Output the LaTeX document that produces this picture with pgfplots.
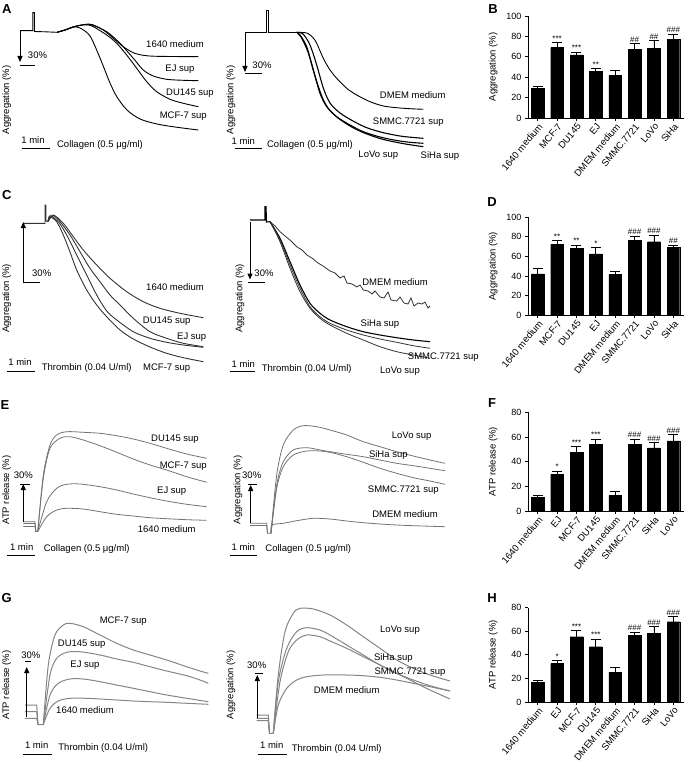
\documentclass[border=0pt]{standalone}
\usepackage{fontspec}
\setmainfont{Liberation Sans}
\usepackage{pgfplots}
\pgfplotsset{compat=1.18}
\usetikzlibrary{arrows.meta}
\newcommand\lbl{\fontsize{9.5}{11}\selectfont}
\newcommand\pl{\bfseries\fontsize{13}{15}\selectfont}
\newcommand\sig{\fontsize{8}{9}\selectfont}
\definecolor{trE}{gray}{0.45}
\definecolor{trG}{gray}{0.52}
\definecolor{dk}{gray}{0.2}
\pgfplotsset{
  barax/.style={
    scale only axis, width=156pt,
    axis x line*=bottom, axis y line*=left,
    xmin=-0.5, xmax=7.55, ymin=0,
    xtick={0,...,7},
    ybar, bar width=12.7pt,
    tick align=outside, major tick length=3pt,
    tick style={black, line width=0.8pt},
    axis line style={line width=0.8pt},
    y tick label style={font=\fontsize{9}{10}\selectfont},
    xticklabel style={rotate=50, anchor=north east, font=\lbl, inner sep=1pt},
    /pgf/number format/assume math mode=true,
    every axis y label/.style={at={(axis description cs:-0.224,0.5)}, rotate=90, anchor=center, font=\lbl},
    clip=false,
  },
  barplot/.style={fill=black, draw=black,
    error bars/.cd, y dir=plus, y explicit,
    error bar style={line width=0.8pt, black},
    error mark options={rotate=90, mark size=5pt, line width=0.8pt, black}},
}
\tikzset{sb/.style={line width=1pt}, ar/.style={line width=1pt, -{Triangle[length=6pt,width=5pt]}}}
\begin{document}
\begin{tikzpicture}
\path[use as bounding box] (0pt,-762pt) rectangle (685pt,0pt);
\begin{axis}[hide axis, x=1pt, y=1pt, xmin=0, xmax=685, ymin=-762, ymax=0,
  clip=false, at={(0pt,-762pt)}, anchor=south west, no markers]
% ---------------- A left
\addplot[black,line width=0.9pt] coordinates {(20,-30.7)(32.7,-30.7)(32.7,-12.7)(34.3,-12.7)(34.3,-31.5)(45,-31.8)(57,-32.3)};
\addplot[black,line width=0.9pt,smooth,tension=0.5] coordinates {(57,-32.3)(65,-30)(75,-26.5)(85,-24.5)(92,-24.5)(103.3,-30)(113.3,-38.3)(123.3,-46.7)(133.3,-52.7)(143.3,-55.3)(156.7,-56.3)(198.3,-56.7)};
\addplot[black,line width=0.9pt,smooth,tension=0.5] coordinates {(57,-32.3)(65,-30)(75,-26.5)(85,-24.5)(92,-25)(106.7,-31.7)(120,-43.3)(133.3,-58.3)(143.3,-70)(153.3,-76)(166.7,-79.3)(183.3,-80.3)(198.3,-80.7)};
\addplot[black,line width=0.9pt,smooth,tension=0.5] coordinates {(57,-32.3)(65,-30)(75,-26.5)(85,-24.8)(92,-26)(106.7,-35)(116.7,-43.3)(126.7,-55)(136.7,-68.3)(146.7,-81.7)(156.7,-91.7)(170,-99.3)(183.3,-103.3)(198.3,-106.7)};
\addplot[black,line width=0.9pt,smooth,tension=0.5] coordinates {(57,-32.3)(65,-30)(73,-27)(80,-28)(90,-36)(100,-58)(110,-83)(117,-97)(127,-110)(140,-119)(157,-124)(175,-127)(198.3,-130)};
\draw[ar] (axis cs:20,-30.7) -- (axis cs:20,-62);
\draw[sb] (axis cs:20,-65.3) -- (axis cs:35,-65.3);
\node[font=\lbl] at (axis cs:37.5,-55) {30\%};
\node[font=\lbl] at (axis cs:175,-44.3) {1640 medium};
\node[font=\lbl] at (axis cs:180,-69) {EJ sup};
\node[font=\lbl] at (axis cs:190,-93.3) {DU145 sup};
\node[font=\lbl] at (axis cs:183.3,-115.7) {MCF-7 sup};
\node[font=\lbl,rotate=90] at (axis cs:6.7,-100) {Aggregation (\%)};
\node[font=\lbl] at (axis cs:33,-140) {1 min};
\draw[sb] (axis cs:21.7,-148.3) -- (axis cs:50,-148.3);
\node[font=\lbl] at (axis cs:100,-145) {Collagen (0.5 μg/ml)};
\node[font=\pl] at (axis cs:6.7,-9.3) {A};
% ---------------- A right
\addplot[black,line width=0.9pt] coordinates {(245,-32.3)(266,-32.3)(266,-10.7)(268.5,-10.7)(268.5,-32.3)(296.7,-32.3)};
\addplot[black,line width=1.1pt,smooth,tension=0.5] coordinates {(296.7,-32.3)(303,-34)(310,-45)(316.7,-65)(323.3,-88)(330,-103)(340,-113)(353,-121)(366.7,-127.7)(383.3,-132.7)(400,-136)(413.3,-137.5)(423.3,-138.3)};
\addplot[black,line width=1.1pt,smooth,tension=0.5] coordinates {(296.7,-32.3)(300,-35)(306.7,-46.7)(313.3,-70)(320,-93.3)(326.7,-106.7)(336.7,-116.7)(350,-125)(363.3,-131.7)(380,-137)(396.7,-140.5)(410,-142.3)(423.3,-143.3)};
\addplot[black,line width=1.1pt,smooth,tension=0.5] coordinates {(296.7,-32.3)(301,-37)(308,-52)(315,-76)(321.7,-96)(328,-108)(338,-118)(351.7,-127)(365,-133.3)(381.7,-139)(398.3,-142.7)(411.7,-145)(423.3,-146.7)};
\addplot[black,line width=0.9pt,smooth,tension=0.5] coordinates {(296.7,-32.3)(303,-32.5)(308,-33.5)(313.3,-38)(316.7,-43.3)(323.3,-58.3)(330,-70)(336.7,-78.3)(346.7,-88.3)(356.7,-95)(370,-101.7)(383.3,-106)(396.7,-107.7)(410,-108.7)(423.3,-109.3)};
\draw[ar] (axis cs:245,-32.3) -- (axis cs:245,-72);
\draw[sb] (axis cs:245,-74) -- (axis cs:261.7,-74);
\node[font=\lbl] at (axis cs:262,-65.7) {30\%};
\node[font=\lbl] at (axis cs:412.7,-95) {DMEM medium};
\node[font=\lbl] at (axis cs:408.3,-122.3) {SMMC.7721 sup};
\node[font=\lbl] at (axis cs:378.3,-155.7) {LoVo sup};
\node[font=\lbl] at (axis cs:440,-155.7) {SiHa sup};
\node[font=\lbl,rotate=90] at (axis cs:231,-100) {Aggregation (\%)};
\node[font=\lbl] at (axis cs:243.3,-140.7) {1 min};
\draw[sb] (axis cs:235,-148.3) -- (axis cs:261.7,-148.3);
\node[font=\lbl] at (axis cs:310,-145) {Collagen (0.5 μg/ml)};
% ---------------- C left
\addplot[dk,line width=0.9pt] coordinates {(23.3,-223.3)(45,-223.3)(45,-205)(45.8,-205)(46,-221)(48,-221.5)};
\addplot[dk,line width=0.9pt,smooth,tension=0.5] coordinates {(48,-221.5)(50,-216.7)(56.7,-221.7)(63.3,-235)(70,-252)(76.7,-270)(86.7,-290)(96.7,-305)(106.7,-316.7)(120,-330)(133.3,-339)(150,-347)(166.7,-353.3)(183.3,-357.7)(203.3,-361.7)};
\addplot[dk,line width=0.9pt,smooth,tension=0.5] coordinates {(48,-221.5)(50,-215.7)(58.3,-221.7)(66.7,-235)(76.7,-255)(86.7,-275)(96.7,-295)(106.7,-311)(116.7,-320)(133.3,-331.7)(150,-338.3)(166.7,-342.3)(183.3,-345)(203.3,-347.3)};
\addplot[dk,line width=0.9pt,smooth,tension=0.5] coordinates {(48,-221.5)(53.3,-215.7)(60,-221.7)(70,-235)(80,-251.7)(90,-268.3)(100,-281.7)(110,-295)(120,-305)(133.3,-318.3)(150,-331.7)(166.7,-338.3)(183.3,-343.3)(203.3,-346.7)};
\addplot[dk,line width=0.9pt,smooth,tension=0.5] coordinates {(48,-221.5)(53.3,-215)(63.3,-223.3)(73.3,-236.7)(83.3,-250)(96.7,-265)(110,-278.3)(126.7,-291.7)(143.3,-301.7)(160,-308.3)(180,-313.3)(203.3,-317.7)};
\draw[ar] (axis cs:23.3,-282.7) -- (axis cs:23.3,-222);
\draw[sb] (axis cs:23.3,-282.7) -- (axis cs:40,-282.7);
\node[font=\lbl] at (axis cs:41.7,-273.3) {30\%};
\node[font=\lbl] at (axis cs:175,-286.7) {1640 medium};
\node[font=\lbl] at (axis cs:166.7,-321.7) {DU145 sup};
\node[font=\lbl] at (axis cs:191.7,-337.7) {EJ sup};
\node[font=\lbl] at (axis cs:166.7,-368.3) {MCF-7 sup};
\node[font=\lbl,rotate=90] at (axis cs:6.7,-298.3) {Aggregation (\%)};
\node[font=\lbl] at (axis cs:20,-361.7) {1 min};
\draw[sb] (axis cs:6.7,-371.7) -- (axis cs:35,-371.7);
\node[font=\lbl] at (axis cs:86.7,-368.3) {Thrombin (0.04 U/ml)};
\node[font=\pl] at (axis cs:6.7,-195) {C};
% ---------------- C right
\addplot[black,line width=1.1pt] coordinates {(250,-220)(265,-220)(265,-206.7)(266,-206.7)(266.5,-222)(270,-221.7)};
\addplot[dk,line width=0.8pt] coordinates {(270,-221.7)(275,-226)(280,-231.7)(285,-236)(290,-240)(296.7,-246.7)(302,-250)(307,-255)(313.3,-259)(318,-263)(323,-266)(330,-271)(335,-273)(340,-278)(344,-276)(347,-283)(352,-284)(357,-287)(360,-285)(363.3,-290)(368,-291)(372,-294)(375,-291)(380,-297)(384,-298)(388,-292)(391,-300)(396.7,-301)(400,-297)(404,-303)(408,-304)(411,-298)(414,-306)(418,-303)(422,-304)(425,-302)(428,-308)(430,-306)};
\addplot[black,line width=1.1pt,smooth,tension=0.5] coordinates {(270,-221.7)(280,-238.3)(290,-261.7)(300,-285)(310,-303.3)(320,-313.3)(330,-320)(346.7,-326.7)(363.3,-331.7)(380,-335)(396.7,-337.7)(413.3,-340)(430,-341.7)};
\addplot[dk,line width=0.8pt,smooth,tension=0.5] coordinates {(270,-221.7)(280,-240)(290,-265)(300,-288.3)(310,-306.7)(320,-316.7)(330,-323.3)(346.7,-330)(363.3,-335)(380,-339)(396.7,-342.3)(413.3,-345.7)(430,-348.3)};
\addplot[dk,line width=0.8pt,smooth,tension=0.5] coordinates {(270,-221.7)(280,-241.7)(290,-268.3)(300,-291.7)(310,-308.3)(320,-318.3)(330,-325)(346.7,-333.3)(363.3,-340)(380,-346.7)(396.7,-351.7)(413.3,-355)(430,-358.3)};
\draw[ar] (axis cs:250,-221.7) -- (axis cs:250,-279.5);
\draw[sb] (axis cs:248,-282.3) -- (axis cs:265,-282.3);
\node[font=\lbl] at (axis cs:264,-273) {30\%};
\node[font=\lbl] at (axis cs:395,-281.7) {DMEM medium};
\node[font=\lbl] at (axis cs:380,-324.3) {SiHa sup};
\node[font=\lbl] at (axis cs:443.3,-356.7) {SMMC.7721 sup};
\node[font=\lbl] at (axis cs:400,-371) {LoVo sup};
\node[font=\lbl,rotate=90] at (axis cs:240,-298.3) {Aggregation (\%)};
\node[font=\lbl] at (axis cs:243.3,-364.3) {1 min};
\draw[sb] (axis cs:230,-371.7) -- (axis cs:255,-371.7);
\node[font=\lbl] at (axis cs:306.7,-369) {Thrombin (0.04 U/ml)};
% ---------------- E left
\addplot[trE,line width=0.8pt] coordinates {(23.3,-521.7)(35,-521.7)(35.8,-531.5)(37.8,-531.5)};
\addplot[trE,line width=0.8pt] coordinates {(23.3,-523.5)(35,-523.5)(35.8,-531.5)};
\addplot[trE,line width=0.8pt] coordinates {(23.3,-526.5)(35,-526.5)(35.8,-531.5)};
\addplot[trE,line width=0.8pt,smooth,tension=0.5] coordinates {(37.8,-531.5)(43.3,-475)(50,-445)(56.7,-435)(66.7,-431.7)(83.3,-432.3)(100,-433.3)(116.7,-435.7)(133.3,-439)(150,-443.3)(166.7,-448.3)(186.7,-454)(206.7,-458.3)};
\addplot[trE,line width=0.8pt,smooth,tension=0.5] coordinates {(37.8,-531.5)(43.3,-478.3)(50,-448.3)(60,-438.3)(70,-436.7)(83.3,-440)(100,-445.7)(116.7,-452.3)(133.3,-459)(150,-465)(166.7,-470)(186.7,-476.7)(206.7,-482.3)};
\addplot[trE,line width=0.8pt,smooth,tension=0.5] coordinates {(37.8,-531.5)(46.7,-501.7)(56.7,-488.3)(66.7,-484.3)(80,-484)(100,-486.7)(116.7,-490)(133.3,-494)(150,-497.7)(166.7,-501)(186.7,-504.3)(206.7,-506.7)};
\addplot[trE,line width=0.8pt,smooth,tension=0.5] coordinates {(37.8,-531.5)(46.7,-516.7)(56.7,-510)(66.7,-508.3)(83.3,-509)(100,-511.7)(116.7,-514.3)(133.3,-516)(150,-517.7)(166.7,-518.7)(186.7,-519.7)(206.7,-520.3)};
\draw[ar] (axis cs:23.3,-521.7) -- (axis cs:23.3,-484);
\draw[sb] (axis cs:20,-484.3) -- (axis cs:30,-484.3);
\node[font=\lbl] at (axis cs:23.3,-475) {30\%};
\node[font=\lbl] at (axis cs:175,-439) {DU145 sup};
\node[font=\lbl] at (axis cs:183.3,-465.7) {MCF-7 sup};
\node[font=\lbl] at (axis cs:171.7,-491) {EJ sup};
\node[font=\lbl] at (axis cs:166.7,-529) {1640 medium};
\node[font=\lbl,rotate=90] at (axis cs:6.7,-490) {ATP release (\%)};
\node[font=\lbl] at (axis cs:21.7,-546.7) {1 min};
\draw[sb] (axis cs:6.7,-555) -- (axis cs:35,-555);
\node[font=\lbl] at (axis cs:86.7,-549) {Collagen (0.5 μg/ml)};
\node[font=\pl] at (axis cs:5,-405) {E};
% ---------------- E right
\addplot[trE,line width=0.8pt] coordinates {(250,-523.3)(266.7,-523.3)(267.5,-533.3)(271,-533.3)};
\addplot[trE,line width=0.8pt] coordinates {(250,-525.5)(266.7,-525.5)(267.5,-533.3)};
\addplot[trE,line width=0.8pt,smooth,tension=0.5] coordinates {(271,-533.3)(276.7,-475)(283.3,-445)(293.3,-430)(303.3,-425.7)(316.7,-426.7)(330,-430)(346.7,-435)(363.3,-441.7)(380,-446.7)(396.7,-451.7)(413.3,-456)(430,-460)(445,-463.3)};
\addplot[trE,line width=0.8pt,smooth,tension=0.5] coordinates {(271,-533.3)(276.7,-485)(283.3,-461.7)(293.3,-450)(306.7,-447.7)(320,-450)(330,-451.7)(346.7,-454.3)(363.3,-456.7)(380,-460)(396.7,-463.3)(413.3,-465.7)(430,-468.3)(445,-470.7)};
\addplot[trE,line width=0.8pt,smooth,tension=0.5] coordinates {(271,-533.3)(276.7,-488.3)(283.3,-466.7)(293.3,-455)(306.7,-451)(320,-451)(330,-452.3)(346.7,-456.7)(363.3,-462.3)(380,-468.3)(396.7,-473.3)(413.3,-477.7)(430,-481)(445,-484.3)};
\addplot[trE,line width=0.8pt,smooth,tension=0.5] coordinates {(271,-533.3)(272,-525)(283.3,-523.3)(296.7,-520.7)(313.3,-518.3)(330,-519)(346.7,-521)(363.3,-522.7)(380,-524)(396.7,-525)(413.3,-525.7)(445,-526.7)};
\draw[ar] (axis cs:250.7,-523.3) -- (axis cs:250.7,-485);
\draw[sb] (axis cs:248,-484.3) -- (axis cs:257,-484.3);
\node[font=\lbl] at (axis cs:251.7,-475) {30\%};
\node[font=\lbl] at (axis cs:411.7,-436) {LoVo sup};
\node[font=\lbl] at (axis cs:388.3,-455) {SiHa sup};
\node[font=\lbl] at (axis cs:403.3,-490) {SMMC.7721 sup};
\node[font=\lbl] at (axis cs:405,-514) {DMEM medium};
\node[font=\lbl,rotate=90] at (axis cs:238,-490) {Aggregation (\%)};
\node[font=\lbl] at (axis cs:243.3,-546.7) {1 min};
\draw[sb] (axis cs:230,-555) -- (axis cs:256.7,-555);
\node[font=\lbl] at (axis cs:308.3,-549) {Collagen (0.5 μg/ml)};
% ---------------- G left
\addplot[trG,line width=1pt] coordinates {(25,-705)(36.7,-705)(38,-724.5)(43.3,-724.5)};
\addplot[trG,line width=1pt] coordinates {(25,-711.7)(36.7,-711.7)(38,-724.5)};
\addplot[trG,line width=1pt] coordinates {(25,-718.3)(36.7,-718.3)(38,-724.5)};
\addplot[trG,line width=1pt,smooth,tension=0.5] coordinates {(43.3,-724.5)(48.3,-665)(55,-635)(63.3,-625)(70,-623.3)(83.3,-626.7)(100,-635)(116.7,-643.3)(133.3,-650)(150,-655)(166.7,-660)(186.7,-666.7)(200,-671)(208.3,-673.3)};
\addplot[trG,line width=1pt,smooth,tension=0.5] coordinates {(43.3,-724.5)(50,-675)(56.7,-658.3)(66.7,-652.3)(80,-651.7)(100,-655)(116.7,-659)(133.3,-662.3)(150,-666.7)(166.7,-671)(186.7,-675.7)(200,-680)(208.3,-683.3)};
\addplot[trG,line width=1pt,smooth,tension=0.5] coordinates {(43.3,-724.5)(50,-695)(58.3,-683.3)(70,-679)(83.3,-679)(100,-681.7)(116.7,-685)(133.3,-688.3)(150,-691.7)(166.7,-695)(186.7,-698.3)(208.3,-701.7)};
\addplot[trG,line width=1pt,smooth,tension=0.5] coordinates {(43.3,-724.5)(50,-708.3)(58.3,-701)(70,-698.3)(86.7,-698.3)(100,-699)(116.7,-700)(133.3,-701)(150,-701.7)(166.7,-702.3)(186.7,-703.3)(208.3,-704.3)};
\draw[ar] (axis cs:26.7,-717) -- (axis cs:26.7,-667);
\draw[sb] (axis cs:25,-661) -- (axis cs:31,-661);
\node[font=\lbl] at (axis cs:30.8,-655) {30\%};
\node[font=\lbl] at (axis cs:123.3,-621) {MCF-7 sup};
\node[font=\lbl] at (axis cs:81.7,-644) {DU145 sup};
\node[font=\lbl] at (axis cs:85,-665.7) {EJ sup};
\node[font=\lbl] at (axis cs:85,-710) {1640 medium};
\node[font=\lbl,rotate=90] at (axis cs:6.7,-685) {ATP release (\%)};
\node[font=\lbl] at (axis cs:36.7,-745) {1 min};
\draw[sb] (axis cs:23.3,-754.3) -- (axis cs:51.7,-754.3);
\node[font=\lbl] at (axis cs:103.3,-748.3) {Thrombin (0.04 U/ml)};
\node[font=\pl] at (axis cs:6.7,-598.3) {G};
% ---------------- G right
\addplot[trG,line width=1pt] coordinates {(256.7,-715)(268.3,-715)(269.5,-733.3)(273.3,-733.3)};
\addplot[trG,line width=1pt] coordinates {(256.7,-718.3)(268.3,-718.3)(269.5,-733.3)};
\addplot[trG,line width=1pt] coordinates {(256.7,-720.5)(268.3,-720.5)(269.5,-733.3)};
\addplot[trG,line width=1pt,smooth,tension=0.5] coordinates {(273.3,-733.3)(278.3,-675)(285,-631.7)(293.3,-613.3)(300,-608.3)(313.3,-609)(330,-615)(346.7,-625)(363.3,-636.7)(380,-648.3)(396.7,-660)(413.3,-668.3)(430,-675)(450,-681)};
\addplot[trG,line width=1pt,smooth,tension=0.5] coordinates {(273.3,-733.3)(278.3,-681.7)(286.7,-648.3)(296.7,-631.7)(306.7,-627.7)(320,-630)(330,-635)(346.7,-645)(363.3,-655)(380,-665)(396.7,-673.3)(413.3,-680)(430,-685.7)(450,-691)};
\addplot[trG,line width=1pt,smooth,tension=0.5] coordinates {(273.3,-733.3)(280,-681.7)(288.3,-651.7)(296.7,-640)(306.7,-635)(320,-636.7)(330,-641)(346.7,-648.3)(363.3,-656.7)(380,-665)(396.7,-673.3)(413.3,-681.7)(430,-690)(450,-699)};
\addplot[trG,line width=1pt,smooth,tension=0.5] coordinates {(273.3,-733.3)(278.3,-705)(286.7,-688.3)(296.7,-680)(306.7,-676.7)(323.3,-675)(346.7,-675)(363.3,-675.7)(380,-677.3)(396.7,-680)(413.3,-683.3)(430,-686.7)(450,-691)};
\draw[ar] (axis cs:257.3,-718) -- (axis cs:257.3,-675);
\draw[sb] (axis cs:255,-673.3) -- (axis cs:263,-673.3);
\node[font=\lbl] at (axis cs:256.7,-665) {30\%};
\node[font=\lbl] at (axis cs:400,-630.7) {LoVo sup};
\node[font=\lbl] at (axis cs:393.3,-658.3) {SiHa sup};
\node[font=\lbl] at (axis cs:410,-672.3) {SMMC.7721 sup};
\node[font=\lbl] at (axis cs:346.7,-690) {DMEM medium};
\node[font=\lbl,rotate=90] at (axis cs:231,-685) {Aggregation (\%)};
\node[font=\lbl] at (axis cs:271.7,-745) {1 min};
\draw[sb] (axis cs:258.3,-754.3) -- (axis cs:286.7,-754.3);
\node[font=\lbl] at (axis cs:336.7,-749) {Thrombin (0.04 U/ml)};
% panel letters for bar charts
\node[font=\pl] at (axis cs:493,-9.3) {B};
\node[font=\pl] at (axis cs:492,-201.7) {D};
\node[font=\pl] at (axis cs:492,-403.3) {F};
\node[font=\pl] at (axis cs:492,-598.3) {H};
\end{axis}
% ================= B
\begin{axis}[barax, at={(528pt,-118pt)}, anchor=south west, height=102pt, ymax=100, ytick={0,20,...,100},
  xticklabels={1640 medium,MCF-7,DU145,EJ,DMEM medium,SMMC.7721,LoVo,SiHa}, ylabel={Aggregation (\%)}]
\addplot[barplot] coordinates {(0,29) +- (0,2.4) (1,69) +- (0,5) (2,62) +- (0,2.8) (3,46) +- (0,2.5) (4,42) +- (0,4.6) (5,67.3) +- (0,5.6) (6,68.6) +- (0,7) (7,77) +- (0,5.4)};
\node[font=\sig,above,inner sep=1pt] at (axis cs:1,74) {***};
\node[font=\sig,above,inner sep=1pt] at (axis cs:2,64.8) {***};
\node[font=\sig,above,inner sep=1pt] at (axis cs:3,48.5) {**};
\node[font=\sig,above,inner sep=1pt] at (axis cs:5,72.9) {\#\#};
\node[font=\sig,above,inner sep=1pt] at (axis cs:6,75.6) {\#\#};
\node[font=\sig,above,inner sep=1pt] at (axis cs:7,82.4) {\#\#\#};
\end{axis}
% ================= D
\begin{axis}[barax, at={(528pt,-315pt)}, anchor=south west, height=97.7pt, ymax=100, ytick={0,20,...,100},
  xticklabels={1640 medium,MCF-7,DU145,EJ,DMEM medium,SMMC.7721,LoVo,SiHa}, ylabel={Aggregation (\%)}]
\addplot[barplot] coordinates {(0,42) +- (0,5.8) (1,72.4) +- (0,4.1) (2,68.3) +- (0,3.4) (3,62.5) +- (0,6.8) (4,41.6) +- (0,2.8) (5,76.1) +- (0,4.8) (6,75) +- (0,6.9) (7,69.3) +- (0,2.4)};
\node[font=\sig,above,inner sep=1pt] at (axis cs:1,76.5) {**};
\node[font=\sig,above,inner sep=1pt] at (axis cs:2,71.7) {**};
\node[font=\sig,above,inner sep=1pt] at (axis cs:3,69.3) {*};
\node[font=\sig,above,inner sep=1pt] at (axis cs:5,80.9) {\#\#\#};
\node[font=\sig,above,inner sep=1pt] at (axis cs:6,81.9) {\#\#\#};
\node[font=\sig,above,inner sep=1pt] at (axis cs:7,71.7) {\#\#};
\end{axis}
% ================= F
\begin{axis}[barax, at={(528pt,-511pt)}, anchor=south west, height=98.7pt, ymax=80, ytick={0,20,...,80},
  xticklabels={1640 medium,EJ,MCF-7,DU145,DMEM medium,SMMC.7721,SiHa,LoVo}, ylabel={ATP release (\%)}]
\addplot[barplot] coordinates {(0,11.1) +- (0,1.3) (1,29.7) +- (0,2.7) (2,47.6) +- (0,4.8) (3,54) +- (0,4.4) (4,12.7) +- (0,3) (5,54) +- (0,4.4) (6,51.1) +- (0,4.3) (7,56.8) +- (0,5.4)};
\node[font=\sig,above,inner sep=1pt] at (axis cs:1,32.4) {*};
\node[font=\sig,above,inner sep=1pt] at (axis cs:2,52.4) {***};
\node[font=\sig,above,inner sep=1pt] at (axis cs:3,58.4) {***};
\node[font=\sig,above,inner sep=1pt] at (axis cs:5,58.4) {\#\#\#};
\node[font=\sig,above,inner sep=1pt] at (axis cs:6,55.4) {\#\#\#};
\node[font=\sig,above,inner sep=1pt] at (axis cs:7,62.2) {\#\#\#};
\end{axis}
% ================= H
\begin{axis}[barax, at={(528pt,-702pt)}, anchor=south west, height=94.3pt, ymax=80, ytick={0,20,...,80},
  xticklabels={1640 medium,EJ,MCF-7,DU145,DMEM medium,SMMC.7721,SiHa,LoVo}, ylabel={ATP release (\%)}]
\addplot[barplot] coordinates {(0,16.7) +- (0,1.9) (1,32.5) +- (0,2.8) (2,55.4) +- (0,5.1) (3,46.9) +- (0,6.5) (4,25.4) +- (0,3.7) (5,56.8) +- (0,2.5) (6,58.5) +- (0,5.3) (7,68.1) +- (0,4.2)};
\node[font=\sig,above,inner sep=1pt] at (axis cs:1,35.3) {*};
\node[font=\sig,above,inner sep=1pt] at (axis cs:2,60.5) {***};
\node[font=\sig,above,inner sep=1pt] at (axis cs:3,53.4) {***};
\node[font=\sig,above,inner sep=1pt] at (axis cs:5,59.3) {\#\#\#};
\node[font=\sig,above,inner sep=1pt] at (axis cs:6,63.8) {\#\#\#};
\node[font=\sig,above,inner sep=1pt] at (axis cs:7,72.3) {\#\#\#};
\end{axis}
\end{tikzpicture}
\end{document}
